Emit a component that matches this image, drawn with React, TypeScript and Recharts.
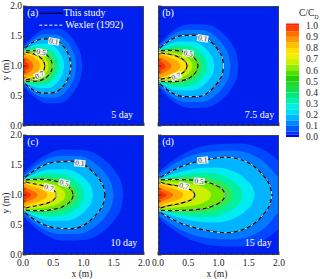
import React from 'react';
import { ComposedChart, BarChart, Bar, Area, Line, XAxis, YAxis, ReferenceDot } from 'recharts';

const FONT = '"Liberation Serif", serif';
const stations = [0, 0.2, 0.4, 0.6, 0.8, 0.92, 0.98, 1];
const levels = [0.02, 0.05, 0.1, 0.2, 0.3, 0.4, 0.5, 0.6, 0.7, 0.8, 0.9, 0.95];
const levelColors = ['#0048ff', '#0078ff', '#00b4ff', '#00ecf0', '#00f0a0', '#30e850', '#70e800', '#c8f000', '#ffe000', '#ffa800', '#ff6800', '#ff3000'];
const backgroundColor = '#0020f0';

// each contour: how far it reaches along x, and its half width about y = 1 at the stations
const reachA = [0.98, 0.88, 0.79, 0.68, 0.6, 0.54, 0.485, 0.42, 0.36, 0.28, 0.17, 0.1];
const widthsA = [
  [0.33, 0.52, 0.62, 0.62, 0.5, 0.32, 0.16, 0],
  [0.3, 0.45, 0.53, 0.53, 0.43, 0.28, 0.14, 0],
  [0.27, 0.39, 0.45, 0.45, 0.37, 0.24, 0.12, 0],
  [0.26, 0.33, 0.37, 0.37, 0.3, 0.19, 0.1, 0],
  [0.255, 0.3, 0.32, 0.31, 0.25, 0.16, 0.08, 0],
  [0.25, 0.275, 0.285, 0.27, 0.215, 0.14, 0.07, 0],
  [0.25, 0.255, 0.255, 0.24, 0.19, 0.12, 0.06, 0],
  [0.24, 0.24, 0.235, 0.21, 0.165, 0.1, 0.05, 0],
  [0.23, 0.225, 0.21, 0.185, 0.14, 0.09, 0.045, 0],
  [0.21, 0.2, 0.18, 0.15, 0.11, 0.07, 0.035, 0],
  [0.16, 0.15, 0.13, 0.105, 0.075, 0.05, 0.025, 0],
  [0.1, 0.09, 0.075, 0.06, 0.04, 0.03, 0.015, 0],
];
const reachB = [1.33, 1.2, 1.085, 0.93, 0.82, 0.73, 0.66, 0.57, 0.48, 0.37, 0.22, 0.12];
const widthsB = [
  [0.34, 0.6, 0.7, 0.69, 0.55, 0.36, 0.18, 0],
  [0.3, 0.52, 0.6, 0.6, 0.48, 0.31, 0.15, 0],
  [0.27, 0.44, 0.51, 0.51, 0.41, 0.26, 0.13, 0],
  [0.26, 0.37, 0.41, 0.41, 0.33, 0.21, 0.11, 0],
  [0.255, 0.32, 0.35, 0.34, 0.27, 0.17, 0.09, 0],
  [0.25, 0.285, 0.3, 0.285, 0.225, 0.145, 0.07, 0],
  [0.25, 0.26, 0.26, 0.245, 0.195, 0.125, 0.06, 0],
  [0.24, 0.235, 0.225, 0.205, 0.16, 0.1, 0.05, 0],
  [0.23, 0.21, 0.195, 0.17, 0.13, 0.085, 0.04, 0],
  [0.21, 0.185, 0.16, 0.13, 0.095, 0.06, 0.03, 0],
  [0.16, 0.14, 0.115, 0.09, 0.065, 0.04, 0.02, 0],
  [0.1, 0.085, 0.07, 0.055, 0.04, 0.025, 0.012, 0],
];
const reachC = [1.66, 1.5, 1.355, 1.16, 1.02, 0.91, 0.83, 0.7, 0.55, 0.4, 0.24, 0.13];
const widthsC = [
  [0.36, 0.64, 0.76, 0.75, 0.6, 0.39, 0.19, 0],
  [0.31, 0.55, 0.65, 0.65, 0.52, 0.33, 0.16, 0],
  [0.27, 0.46, 0.55, 0.56, 0.45, 0.28, 0.14, 0],
  [0.26, 0.37, 0.43, 0.43, 0.35, 0.22, 0.11, 0],
  [0.255, 0.32, 0.36, 0.35, 0.28, 0.18, 0.09, 0],
  [0.25, 0.285, 0.3, 0.285, 0.23, 0.15, 0.07, 0],
  [0.25, 0.26, 0.26, 0.24, 0.19, 0.125, 0.06, 0],
  [0.24, 0.23, 0.215, 0.195, 0.155, 0.1, 0.05, 0],
  [0.23, 0.2, 0.18, 0.155, 0.12, 0.08, 0.04, 0],
  [0.21, 0.17, 0.14, 0.115, 0.085, 0.055, 0.03, 0],
  [0.16, 0.125, 0.1, 0.08, 0.055, 0.035, 0.02, 0],
  [0.1, 0.08, 0.065, 0.05, 0.035, 0.022, 0.01, 0],
];
const reachD = [2.25, 2.07, 1.885, 1.6, 1.4, 1.24, 1.11, 0.88, 0.61, 0.42, 0.25, 0.14];
const widthsD = [
  [0.38, 0.7, 0.84, 0.86, 0.72, 0.46, 0.23, 0],
  [0.33, 0.6, 0.72, 0.74, 0.62, 0.39, 0.19, 0],
  [0.27, 0.47, 0.58, 0.63, 0.53, 0.33, 0.16, 0],
  [0.26, 0.37, 0.44, 0.46, 0.38, 0.24, 0.12, 0],
  [0.255, 0.32, 0.36, 0.37, 0.3, 0.19, 0.09, 0],
  [0.25, 0.285, 0.3, 0.295, 0.24, 0.155, 0.075, 0],
  [0.25, 0.26, 0.255, 0.24, 0.19, 0.125, 0.06, 0],
  [0.24, 0.22, 0.205, 0.185, 0.145, 0.095, 0.05, 0],
  [0.23, 0.19, 0.165, 0.14, 0.105, 0.07, 0.035, 0],
  [0.21, 0.16, 0.13, 0.105, 0.075, 0.05, 0.025, 0],
  [0.16, 0.115, 0.09, 0.07, 0.05, 0.03, 0.015, 0],
  [0.1, 0.075, 0.06, 0.045, 0.03, 0.02, 0.01, 0],
];

const labelsA = [{ x: 0.51, y: 1.41, t: '0.1', a: 10 }, { x: 0.3, y: 1.23, t: '0.5', a: 10 }, { x: 0.27, y: 0.85, t: '0.7', a: -25 }];
const labelsB = [{ x: 0.74, y: 1.46, t: '0.1', a: 10 }, { x: 0.5, y: 1.21, t: '0.5', a: 10 }, { x: 0.3, y: 0.83, t: '0.7', a: -20 }];
const labelsC = [{ x: 0.94, y: 1.53, t: '0.1', a: 5 }, { x: 0.68, y: 1.2, t: '0.5', a: 15 }, { x: 0.43, y: 1.12, t: '0.7', a: 15 }];
const labelsD = [{ x: 0.74, y: 1.58, t: '0.1', a: -5 }, { x: 0.68, y: 1.23, t: '0.5', a: 5 }, { x: 0.43, y: 1.15, t: '0.7', a: 15 }];

const axisTicks = [0, 0.1, 0.2, 0.3, 0.4, 0.5, 0.6, 0.7, 0.8, 0.9, 1, 1.1, 1.2, 1.3, 1.4, 1.5, 1.6, 1.7, 1.8, 1.9, 2];
const majorTicks = [0, 0.5, 1, 1.5, 2];
const barTicks = [0, 0.1, 0.2, 0.3, 0.4, 0.5, 0.6, 0.7, 0.8, 0.9, 1];

const bandSizes = [0.02, 0.03, 0.05, 0.05, 0.05, 0.05, 0.05, 0.05, 0.05, 0.05, 0.05, 0.05, 0.05, 0.05, 0.05, 0.05, 0.05, 0.05, 0.05, 0.05, 0.05, 0.02];
const bandColors = ['#0008f0', '#0030ff', '#0058ff', '#0088ff', '#00b4ff', '#00dcf8', '#00f0e0', '#00f0b0', '#00e880', '#10e050', '#20d830', '#20d010', '#50e000', '#90ec00', '#c8f000', '#f0f000', '#ffe000', '#ffc000', '#ff9800', '#ff7000', '#ff4000', '#ff2000'];

const frameX = [0, 2, 2, 0, 0];
const frameY = [0, 0, 2, 2, 0];
const legendX = [0.27, 0.66];

const INK = '#222';
const TICK_FONT = 9.5;

function xTick(showLabel: boolean) {
  return (p: any) => {
    const major = majorTicks.includes(p.payload.value);
    return (
      <g>
        <line x1={p.x} x2={p.x} y1={p.y} y2={p.y - (major ? 3.5 : 2.5)} stroke={INK} strokeWidth={0.8} />
        {showLabel && major && (
          <text x={p.x} y={p.y + 11} textAnchor="middle" fontSize={TICK_FONT} fontFamily={FONT} fill={INK}>
            {p.payload.value.toFixed(1)}
          </text>
        )}
      </g>
    );
  };
}
function yTick(showLabel: boolean) {
  return (p: any) => {
    const major = majorTicks.includes(p.payload.value);
    return (
      <g>
        <line x1={p.x} x2={p.x + (major ? 3.5 : 2.5)} y1={p.y} y2={p.y} stroke={INK} strokeWidth={0.8} />
        {showLabel && major && (
          <text x={p.x - 1} y={p.y + 3} textAnchor="end" fontSize={TICK_FONT} fontFamily={FONT} fill={INK}>
            {p.payload.value.toFixed(1)}
          </text>
        )}
      </g>
    );
  };
}

function Panel({ left, top, reach, widths, labels, tag, day, dayX, dayY, yLabels, xLabels, legend }: any) {
  const contours = reach.map((r: number, i: number) =>
    stations.map((s, j) => ({ x: s * r, band: [1 - widths[i][j], 1 + widths[i][j]], hi: 1 + widths[i][j], lo: 1 - widths[i][j] })),
  );
  const lined = [2, 6, 8];
  const bg = [{ x: 0, band: [0, 2] }, { x: 2, band: [0, 2] }];
  const frame = frameX.map((x, i) => ({ x, y: frameY[i] }));
  const contourSeries = lined.flatMap((i) =>
    ['hi', 'lo'].flatMap((k) => [
      <Line key={`b${i}${k}`} data={contours[i]} dataKey={k} type="monotone" stroke="#000" strokeWidth={1.1} dot={false} activeDot={false} isAnimationActive={false} />,
      <Line key={`w${i}${k}`} data={contours[i]} dataKey={k} type="monotone" stroke="#fff" strokeWidth={0.9} strokeDasharray="3 4" dot={false} activeDot={false} isAnimationActive={false} />,
    ]),
  );
  return (
    <div style={{ position: 'absolute', left, top }}>
      <ComposedChart width={150} height={146} margin={{ top: 6, right: 6, bottom: 0, left: 0 }}>
        <XAxis dataKey="x" type="number" domain={[0, 2]} ticks={axisTicks} interval={0} height={20} tickSize={0} tickMargin={0} tickLine={false} axisLine={false} allowDataOverflow tick={xTick(xLabels)} />
        <YAxis type="number" domain={[0, 2]} ticks={axisTicks} interval={0} width={23} tickSize={0} tickMargin={0} tickLine={false} axisLine={false} allowDataOverflow tick={yTick(yLabels)} />
        <Area data={bg} dataKey="band" stroke="none" fill={backgroundColor} fillOpacity={1} dot={false} activeDot={false} isAnimationActive={false} />
        {contours.map((c: any, i: number) => (
          <Area key={levels[i]} data={c} dataKey="band" type="monotone" stroke="none" fill={levelColors[i]} fillOpacity={1} dot={false} activeDot={false} isAnimationActive={false} />
        ))}
        {contourSeries}
        <Line data={frame} dataKey="y" stroke="#444" strokeWidth={2} dot={false} activeDot={false} isAnimationActive={false} />
        {legend && (
          <Line data={legendX.map((x) => ({ x, y: 1.88 }))} dataKey="y" stroke="#000" strokeWidth={1} dot={false} activeDot={false} isAnimationActive={false} />
        )}
        {legend && (
          <Line data={legendX.map((x) => ({ x, y: 1.68 }))} dataKey="y" stroke="#fff" strokeWidth={1} strokeDasharray="3 2" dot={false} activeDot={false} isAnimationActive={false} />
        )}
        {labels.map((l: any) => (
          <ReferenceDot key={l.t} x={l.x} y={l.y} r={0} shape={(p: any) => (
            <g transform={`rotate(${l.a} ${p.cx} ${p.cy})`}>
              <rect x={p.cx - 5.5} y={p.cy - 3.5} width={11} height={7} fill="#fff" opacity={0.9} />
              <text x={p.cx} y={p.cy + 2.5} textAnchor="middle" fontSize={7.5} fontFamily={FONT} fill="#333">{l.t}</text>
            </g>
          )} />
        ))}
        <ReferenceDot x={0.07} y={1.88} r={0} shape={(p: any) => (
          <text x={p.cx} y={p.cy + 3} fontSize={10} fontFamily={FONT} fill="#fff">{tag}</text>
        )} />
        <ReferenceDot x={dayX} y={dayY} r={0} shape={(p: any) => (
          <text x={p.cx} y={p.cy + 3} textAnchor="end" fontSize={10} fontFamily={FONT} fill="#fff">{day}</text>
        )} />
        {legend && (
          <ReferenceDot x={0.67} y={1.88} r={0} shape={(p: any) => (
            <text x={p.cx} y={p.cy + 3} fontSize={10} fontFamily={FONT} fill="#fff">This study</text>
          )} />
        )}
        {legend && (
          <ReferenceDot x={0.7} y={1.68} r={0} shape={(p: any) => (
            <text x={p.cx} y={p.cy + 3} fontSize={10} fontFamily={FONT} fill="#fff">Wexler (1992)</text>
          )} />
        )}
      </ComposedChart>
    </div>
  );
}

function ColorBar() {
  const row: Record<string, number | string> = { name: 'bar' };
  bandSizes.forEach((v, i) => { row[`b${i}`] = v; });
  return (
    <div style={{ position: 'absolute', left: 286, top: 13 }}>
      <BarChart width={34} height={132} data={[row]} barCategoryGap={0} margin={{ top: 10.5, right: 0, bottom: 8, left: 0 }}>
        <XAxis dataKey="name" hide />
        <YAxis orientation="right" type="number" domain={[0, 1.02]} ticks={barTicks} interval={0} width={21} tickLine={false} axisLine={false} tickMargin={1}
          tick={{ fontSize: TICK_FONT, fontFamily: FONT, fill: INK }} tickFormatter={(v: number) => v.toFixed(1)} />
        {bandSizes.map((_, i) => (
          <Bar key={i} dataKey={`b${i}`} stackId="c" fill={bandColors[i]} isAnimationActive={false} />
        ))}
      </BarChart>
    </div>
  );
}

const textStyle: React.CSSProperties = { position: 'absolute', fontFamily: FONT, fontSize: 9.5, color: INK, whiteSpace: 'nowrap', lineHeight: '11px' };

export default function App() {
  return (
    <div style={{ position: 'absolute', left: 0, top: 0, width: 320, height: 279, overflow: 'hidden', background: '#fff' }}>
      <Panel left={0} top={0} reach={reachA} widths={widthsA} labels={labelsA} tag="(a)" day="5 day" dayX={1.82} dayY={0.18} yLabels xLabels={false} legend />
      <Panel left={135} top={0} reach={reachB} widths={widthsB} labels={labelsB} tag="(b)" day="7.5 day" dayX={1.92} dayY={0.18} yLabels={false} xLabels={false} />
      <Panel left={0} top={129} reach={reachC} widths={widthsC} labels={labelsC} tag="(c)" day="10 day" dayX={1.89} dayY={0.2} yLabels xLabels />
      <Panel left={135} top={129} reach={reachD} widths={widthsD} labels={labelsD} tag="(d)" day="15 day" dayX={1.88} dayY={0.2} yLabels={false} xLabels />
      <ColorBar />
      <div style={{ ...textStyle, left: 299, top: 8 }}>C/C<sub style={{ fontSize: 6, lineHeight: 0 }}>D</sub></div>
      <div style={{ ...textStyle, left: 6, top: 70, transform: 'translate(-50%,-50%) rotate(-90deg)' }}>y (m)</div>
      <div style={{ ...textStyle, left: 6, top: 203, transform: 'translate(-50%,-50%) rotate(-90deg)' }}>y (m)</div>
      <div style={{ ...textStyle, left: 82, top: 273.5, transform: 'translate(-50%,-50%)' }}>x (m)</div>
      <div style={{ ...textStyle, left: 217, top: 273.5, transform: 'translate(-50%,-50%)' }}>x (m)</div>
    </div>
  );
}
